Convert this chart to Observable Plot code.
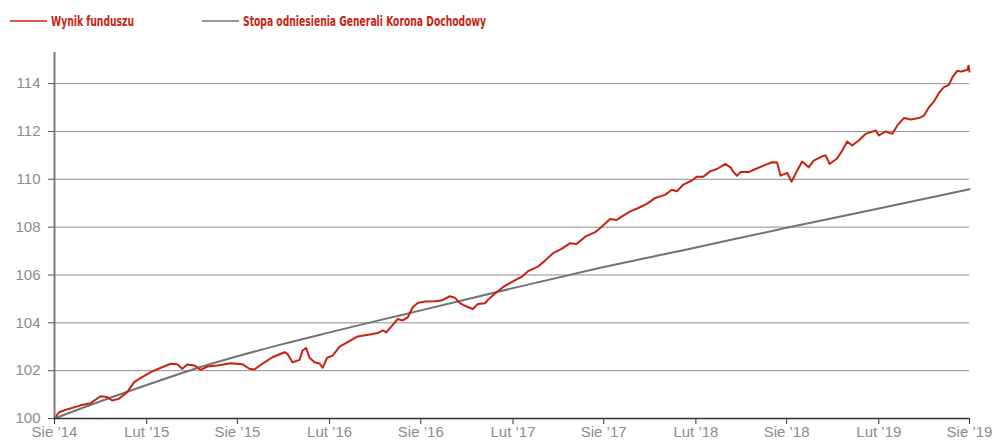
<!DOCTYPE html>
<html>
<head>
<meta charset="utf-8">
<script src="https://cdn.jsdelivr.net/npm/d3@7"></script>
<script src="https://cdn.jsdelivr.net/npm/@observablehq/plot@0.6"></script>
<style>
  html, body { margin: 0; padding: 0; background: #fff; }
  #legend { display: block; }
  #chart svg { display: block; }
</style>
</head>
<body>
<svg id="legend" width="996" height="40"></svg>
<div id="chart"></div>
<script>
// ---- data ----
const seriesNames = ["Wynik funduszu", "Stopa odniesienia Generali Korona Dochodowy"];

const fundDates = [
  "2014-08-01","2014-08-10","2014-08-29","2014-09-22","2014-10-12","2014-11-01","2014-11-14","2014-11-24",
  "2014-12-07","2014-12-24","2015-01-07","2015-01-23","2015-02-09","2015-03-01","2015-03-21","2015-04-03",
  "2015-04-13","2015-04-23","2015-05-07","2015-05-20","2015-06-02","2015-06-22","2015-07-19","2015-08-11",
  "2015-08-25","2015-09-04","2015-09-24","2015-10-10","2015-11-03","2015-11-09","2015-11-19","2015-12-03",
  "2015-12-09","2015-12-16","2015-12-23","2016-01-02","2016-01-12","2016-01-18","2016-01-27","2016-02-07",
  "2016-02-21","2016-03-08","2016-03-28","2016-04-21","2016-05-07","2016-05-17","2016-05-24","2016-06-03",
  "2016-06-16","2016-06-26","2016-07-06","2016-07-16","2016-07-26","2016-08-09","2016-08-29","2016-09-11",
  "2016-09-28","2016-10-08","2016-10-18","2016-10-31","2016-11-13","2016-11-23","2016-12-07","2016-12-17",
  "2016-12-30","2017-01-12","2017-01-29","2017-02-18","2017-03-03","2017-03-23","2017-04-06","2017-04-22",
  "2017-05-09","2017-05-26","2017-06-08","2017-06-25","2017-07-15","2017-07-28","2017-08-14","2017-08-27",
  "2017-09-09","2017-09-23","2017-10-09","2017-10-26","2017-11-12","2017-12-02","2017-12-15","2017-12-25",
  "2018-01-07","2018-01-24","2018-02-03","2018-02-16","2018-03-02","2018-03-15","2018-04-01","2018-04-11",
  "2018-04-17","2018-04-24","2018-05-01","2018-05-17","2018-05-31","2018-06-16","2018-07-03","2018-07-13",
  "2018-07-20","2018-08-02","2018-08-11","2018-08-22","2018-09-01","2018-09-14","2018-09-24","2018-10-11",
  "2018-10-18","2018-10-26","2018-11-10","2018-11-20","2018-11-30","2018-12-10","2018-12-23","2019-01-06",
  "2019-01-26","2019-02-01","2019-02-15","2019-02-28","2019-03-10","2019-03-23","2019-04-06","2019-04-22",
  "2019-05-02","2019-05-12","2019-05-22","2019-06-01","2019-06-11","2019-06-21","2019-06-28","2019-07-08",
  "2019-07-15","2019-07-21","2019-07-28","2019-07-30","2019-08-01"
];
const fundValues = [
  100.00,100.26,100.40,100.55,100.64,100.93,100.90,100.75,
  100.82,101.10,101.52,101.73,101.94,102.12,102.29,102.27,
  102.08,102.26,102.22,102.03,102.17,102.22,102.31,102.27,
  102.08,102.05,102.35,102.56,102.77,102.70,102.35,102.45,
  102.84,102.95,102.54,102.35,102.30,102.12,102.54,102.63,
  103.00,103.19,103.43,103.51,103.57,103.68,103.60,103.84,
  104.16,104.10,104.23,104.65,104.83,104.89,104.90,104.93,
  105.11,105.05,104.82,104.68,104.58,104.79,104.82,105.04,
  105.28,105.49,105.70,105.92,106.16,106.35,106.60,106.91,
  107.09,107.33,107.29,107.60,107.79,108.02,108.34,108.30,
  108.48,108.66,108.80,108.97,109.22,109.36,109.56,109.50,
  109.78,109.95,110.11,110.11,110.34,110.43,110.64,110.50,
  110.30,110.15,110.30,110.30,110.43,110.57,110.71,110.70,
  110.15,110.27,109.90,110.36,110.74,110.50,110.78,110.96,
  111.00,110.64,110.88,111.20,111.58,111.41,111.62,111.90,
  112.04,111.83,112.00,111.90,112.25,112.56,112.50,112.56,
  112.66,113.01,113.25,113.61,113.85,113.95,114.27,114.54,
  114.50,114.54,114.58,114.75,114.50
];

const benchDates = [
  "2014-08-01","2014-11-01","2015-02-01","2015-05-01","2015-08-01","2015-11-01","2016-02-01",
  "2016-05-01","2016-08-01","2017-02-01","2017-08-01","2018-02-01","2018-08-01","2019-02-01","2019-08-01"
];
const benchValues = [100.00, 100.72, 101.40, 102.03, 102.60, 103.12, 103.60, 104.06, 104.52, 105.45, 106.33, 107.15, 107.97, 108.78, 109.58];

const yTicks = [100, 102, 104, 106, 108, 110, 112, 114];
const xTickDates = [
  "2014-08-01","2015-02-01","2015-08-01","2016-02-01","2016-08-01","2017-02-01",
  "2017-08-01","2018-02-01","2018-08-01","2019-02-01","2019-08-01"
];
const xTickLabels = ["Sie ’14","Lut ’15","Sie ’15","Lut ’16","Sie ’16","Lut ’17","Sie ’17","Lut ’18","Sie ’18","Lut ’19","Sie ’19"];

// ---- build tables ----
const RED = "#c8230f";
const GREY = "#737373";
const fund = fundDates.map((d, i) => ({date: new Date(d), value: fundValues[i]}));
const bench = benchDates.map((d, i) => ({date: new Date(d), value: benchValues[i]}));
const tickDates = xTickDates.map(d => new Date(d));
const labelByTime = new Map(tickDates.map((d, i) => [+d, xTickLabels[i]]));
const xDomain = [tickDates[0], tickDates[tickDates.length - 1]];
const yDomain = [100, 115.3];

// ---- legend ----
const ns = "http://www.w3.org/2000/svg";
const leg = document.getElementById("legend");
function addLine(x1, x2, color) {
  const l = document.createElementNS(ns, "line");
  l.setAttribute("x1", x1); l.setAttribute("x2", x2);
  l.setAttribute("y1", 21); l.setAttribute("y2", 21);
  l.setAttribute("stroke", color); l.setAttribute("stroke-width", 1.6);
  leg.appendChild(l);
}
function addText(x, str, len) {
  const t = document.createElementNS(ns, "text");
  t.setAttribute("x", x); t.setAttribute("y", 25.5);
  t.setAttribute("fill", RED);
  t.setAttribute("font-family", "'Liberation Sans Narrow', 'DejaVu Sans Condensed', 'Liberation Sans', sans-serif");
  t.setAttribute("font-weight", "bold");
  t.setAttribute("font-size", "13.5");
  t.setAttribute("textLength", len);
  t.setAttribute("lengthAdjust", "spacingAndGlyphs");
  t.textContent = str;
  leg.appendChild(t);
}
addLine(10, 47, RED);
addText(51, seriesNames[0], 83);
addLine(202, 239, GREY);
addText(243, seriesNames[1], 243);

// ---- chart ----
const chart = Plot.plot({
  width: 996,
  height: 401,
  marginLeft: 54,
  marginRight: 27,
  marginTop: 12,
  marginBottom: 23,
  style: {fontFamily: "'Liberation Sans', Arial, sans-serif", fontSize: "15px", color: "#8c8c8c", background: "#fff"},
  x: {type: "utc", domain: xDomain},
  y: {domain: yDomain},
  marks: [
    Plot.ruleY(yTicks.filter(v => v > 100), {stroke: "#8f8f8f", strokeWidth: 1}),
    Plot.lineY(bench, {x: "date", y: "value", stroke: GREY, strokeWidth: 2, curve: "monotone-x"}),
    Plot.lineY(fund, {x: "date", y: "value", stroke: RED, strokeWidth: 2}),
    Plot.ruleX([xDomain[0]], {y1: yDomain[0], y2: yDomain[1], stroke: "#7a7a7a", strokeWidth: 2}),
    Plot.ruleY([100], {stroke: "#333", strokeWidth: 1.5}),
    Plot.axisY({ticks: yTicks, tickSize: 6, tickPadding: 8, stroke: "#555", fill: "#8c8c8c", tickFormat: d => String(d), label: null}),
    Plot.axisX({ticks: tickDates, tickSize: 6, tickPadding: 2, stroke: "#333", fill: "#8c8c8c", tickFormat: d => labelByTime.get(+d), label: null})
  ]
});
document.getElementById("chart").appendChild(chart);
</script>
</body>
</html>
